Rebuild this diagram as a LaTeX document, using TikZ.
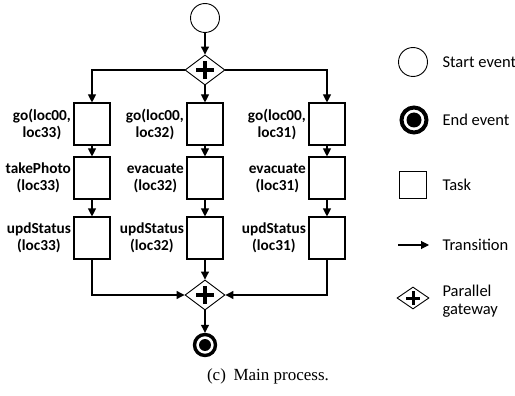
\documentclass[tikz,border=0pt]{standalone}
\usepackage{fontspec}
\setmainfont{Liberation Serif}
\newfontfamily\calfont{Carlito}
\usetikzlibrary{arrows.meta,shapes.geometric}
\begin{document}
\begin{tikzpicture}[x=1pt,y=-1pt,line width=1.1pt,
  task/.style={draw,rectangle,minimum width=36pt,minimum height=42pt,inner sep=0pt},
  ltask/.style={draw,rectangle,minimum width=27pt,minimum height=27pt,inner sep=0pt},
  gate/.style={draw,diamond,minimum width=40pt,minimum height=30pt,inner sep=0pt,line width=0.9pt},
  lgate/.style={draw,diamond,minimum width=32pt,minimum height=22pt,inner sep=0pt,line width=0.9pt},
  startev/.style={draw,circle,minimum size=29pt,inner sep=0pt,line width=0.9pt},
  endev/.style={draw,circle,minimum size=21pt,inner sep=0pt,line width=3.4pt},
  lendev/.style={draw,circle,minimum size=25pt,inner sep=0pt,line width=4pt},
  lbl/.style={font=\calfont\bfseries\fontsize{15.3}{17}\selectfont,align=center,anchor=east,inner sep=2pt},
  leg/.style={font=\calfont\fontsize{16.5}{18.5}\selectfont,align=left,anchor=west,inner sep=0pt},
  flow/.style={-{Triangle[length=8pt,width=8pt]}},
  plus/.style={line width=3.6pt}]
\useasboundingbox (0,0) rectangle (515,396);

% events and gateways
\node[startev] (start) at (205,18) {};
\node[gate] (g1) at (205,70) {};
\node[gate] (g2) at (205,295) {};
\node[endev] (end) at (205,345) {};
\fill (end.center) circle (6pt);
\draw[plus] ([xshift=-9pt]g1.center) -- ([xshift=9pt]g1.center);
\draw[plus] ([yshift=-9pt]g1.center) -- ([yshift=9pt]g1.center);
\draw[plus] ([xshift=-9pt]g2.center) -- ([xshift=9pt]g2.center);
\draw[plus] ([yshift=-9pt]g2.center) -- ([yshift=9pt]g2.center);

% tasks
\node[task] (a1) at (92,124) {};
\node[task] (a2) at (92,178) {};
\node[task] (a3) at (92,238) {};
\node[task] (b1) at (205,124) {};
\node[task] (b2) at (205,178) {};
\node[task] (b3) at (205,238) {};
\node[task] (c1) at (327,124) {};
\node[task] (c2) at (327,178) {};
\node[task] (c3) at (327,238) {};

% labels
\node[lbl] (la1) at (a1.west) {go(loc00,\\loc33)};
\node[lbl] (la2) at (a2.west) {takePhoto\\(loc33)};
\node[lbl] (la3) at (a3.west) {updStatus\\(loc33)};
\node[lbl] (lb1) at (b1.west) {go(loc00,\\loc32)};
\node[lbl] (lb2) at (b2.west) {evacuate\\(loc32)};
\node[lbl] (lb3) at (b3.west) {updStatus\\(loc32)};
\node[lbl] (lc1) at (c1.west) {go(loc00,\\loc31)};
\node[lbl] (lc2) at (c2.west) {evacuate\\(loc31)};
\node[lbl] (lc3) at (c3.west) {updStatus\\(loc31)};

% connectors
\draw[flow] (start) -- (g1);
\draw[flow] (g1.west) -| (a1.north);
\draw[flow] (g1.south) -- (b1.north);
\draw[flow] (g1.east) -| (c1.north);
\draw[flow] (a1) -- (a2);
\draw[flow] (a2) -- (a3);
\draw[flow] (b1) -- (b2);
\draw[flow] (b2) -- (b3);
\draw[flow] (c1) -- (c2);
\draw[flow] (c2) -- (c3);
\draw[flow] (a3.south) |- (g2.west);
\draw[flow] (b3.south) -- (g2.north);
\draw[flow] (c3.south) |- (g2.east);
\draw[flow] (g2.south) -- (end);

% legend
\node[startev,minimum size=29pt] (ls) at (413,62) {};
\node[leg] (lst) at (442,62) {Start event};
\node[lendev] (le) at (414,120) {};
\fill (le.center) circle (7.5pt);
\node[leg] (let) at (442,120) {End event};
\node[ltask] (lt) at (413,185) {};
\node[leg] (ltt) at (442,185) {Task};
\coordinate (lta) at (398,245);
\coordinate (ltb) at (429,245);
\draw[flow] (lta) -- (ltb);
\node[leg] (ltr) at (442,245) {Transition};
\node[lgate] (lg) at (413,298) {};
\draw[line width=3pt] ([xshift=-7pt]lg.center) -- ([xshift=7pt]lg.center);
\draw[line width=3pt] ([yshift=-7pt]lg.center) -- ([yshift=7pt]lg.center);
\node[leg] (lgt) at (442,301) {Parallel\\gateway};

% caption
\node[font=\fontsize{17}{20}\selectfont,inner sep=0pt] (cap) at (268,376) {(c)\hspace{0.45em}Main process.};
\end{tikzpicture}
\end{document}
